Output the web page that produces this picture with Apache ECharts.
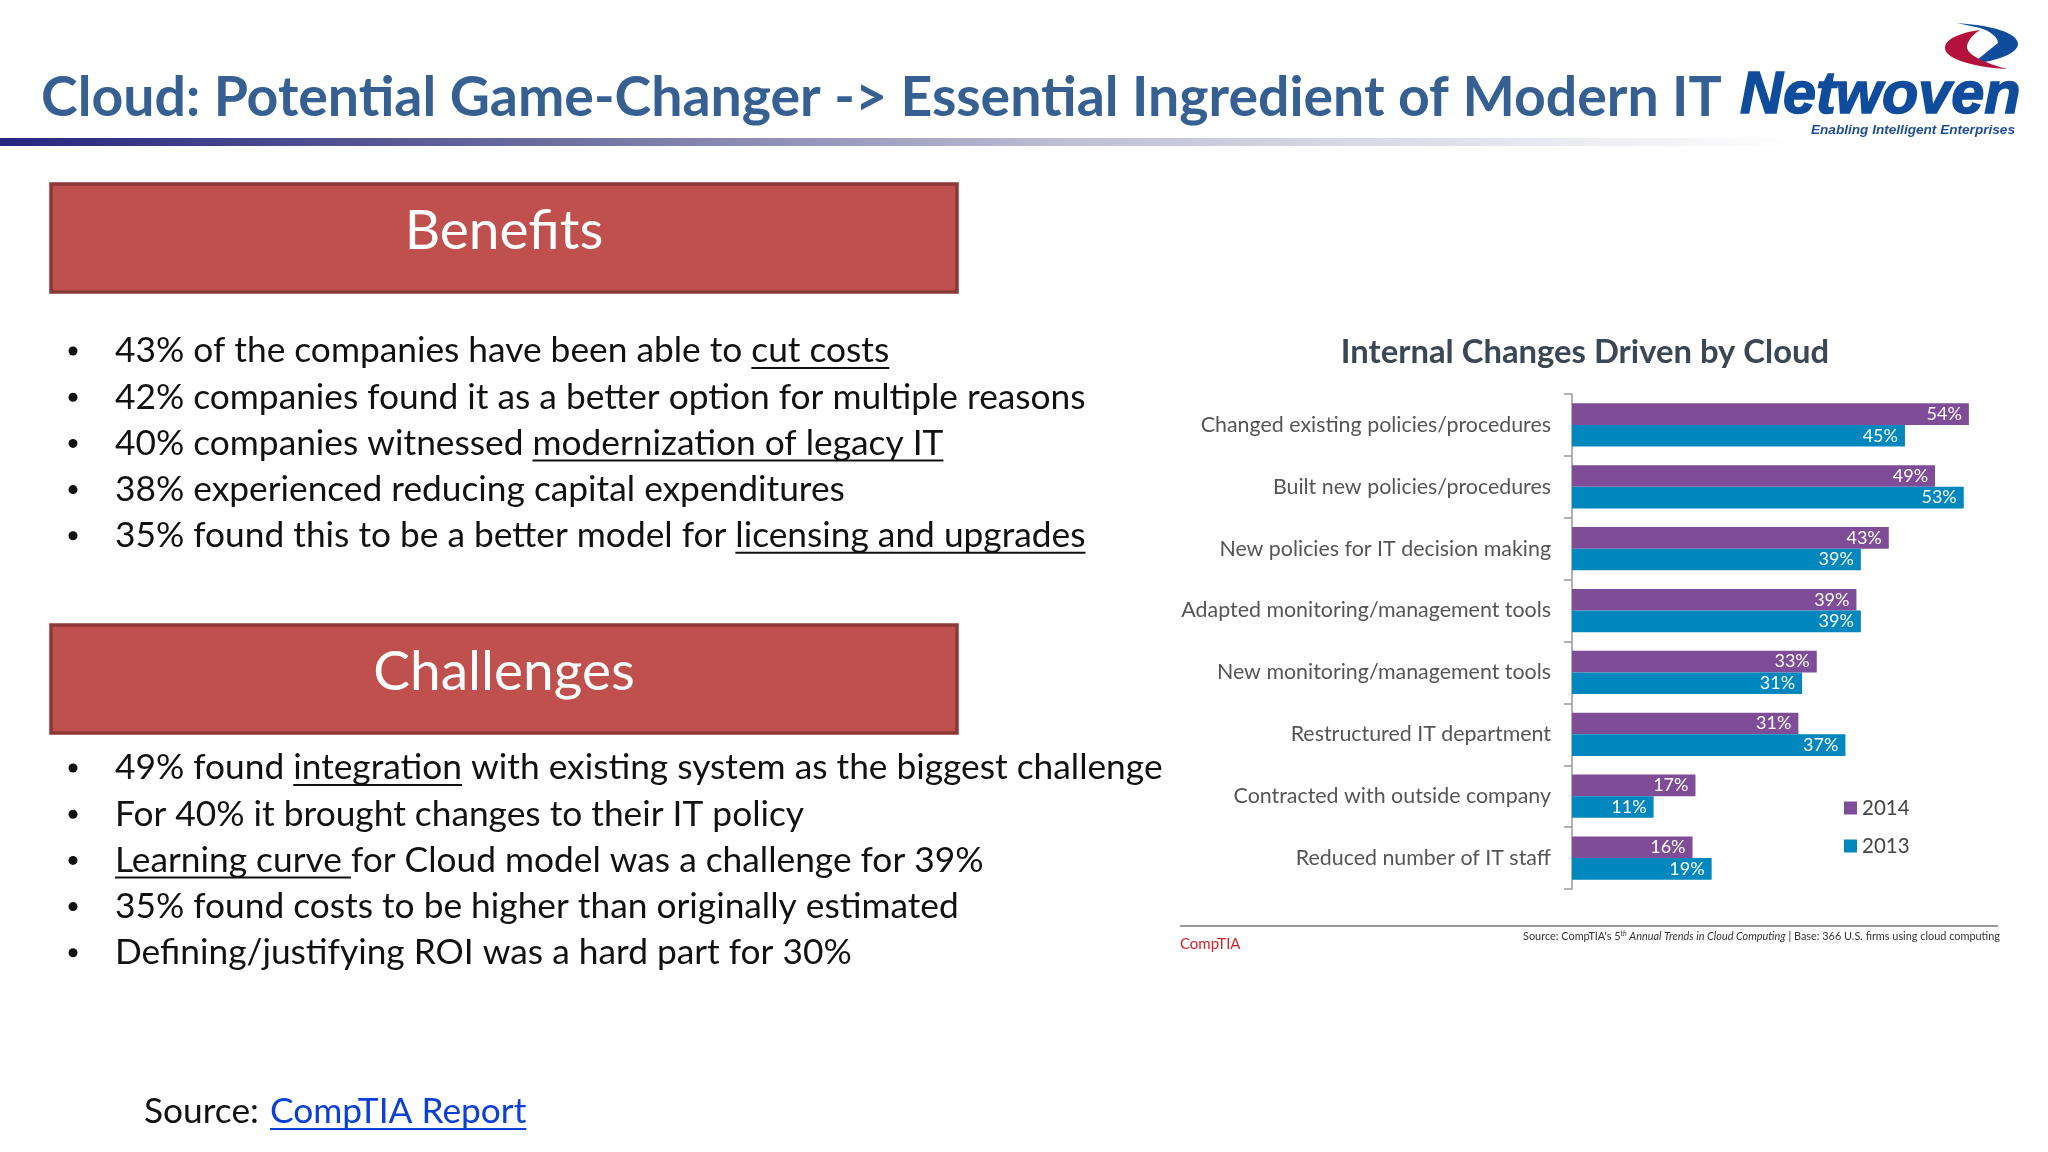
<!DOCTYPE html>
<html lang="en">
<head>
    <meta charset="UTF-8">
    <title>Cloud: Potential Game-Changer</title>
    <script src="https://cdn.jsdelivr.net/npm/echarts@6/dist/echarts.min.js"></script>
    <style>
        html, body { margin: 0; padding: 0; background: #fff; }
        #main { width: 2048px; height: 1152px; }
    </style>
</head>
<body>
<div id="main"></div>
<script>
    // chart data
    const categories = [
        'Changed existing policies/procedures',
        'Built new policies/procedures',
        'New policies for IT decision making',
        'Adapted monitoring/management tools',
        'New monitoring/management tools',
        'Restructured IT department',
        'Contracted with outside company',
        'Reduced number of IT staff'
    ];
    const values2014 = [54, 49.4, 43.1, 38.7, 33.3, 30.8, 16.8, 16.4];
    const values2013 = [45.3, 53.3, 39.3, 39.3, 31.3, 37.2, 11.1, 19];

    // slide text, [text, underlined]
    const benefits = [
        [['43% of the companies have been able to ', 0], ['cut costs', 1]],
        [['42% companies found it as a better option for multiple reasons', 0]],
        [['40% companies witnessed ', 0], ['modernization of legacy IT', 1]],
        [['38% experienced reducing capital expenditures', 0]],
        [['35% found this to be a better model for ', 0], ['licensing and upgrades', 1]]
    ];
    const challenges = [
        [['49% found ', 0], ['integration', 1], [' with existing system as the biggest challenge', 0]],
        [['For 40% it brought changes to their IT policy', 0]],
        [['Learning curve ', 1], ['for Cloud model was a challenge for 39%', 0]],
        [['35% found costs to be higher than originally estimated', 0]],
        [['Defining/justifying ROI was a hard part for 30%', 0]]
    ];

    const FONT = 'Lato';
    const BODY_SIZE = 35.3;
    const ctx = document.createElement('canvas').getContext('2d');

    function textWidth(text, size) {
        ctx.font = size + 'px ' + FONT;
        return ctx.measureText(text).width;
    }

    function label(text, x, y, size, fill, extra) {
        return {
            type: 'text',
            style: Object.assign({
                text: text, x: x, y: y, fontSize: size, fontFamily: FONT,
                fill: fill, verticalAlign: 'middle'
            }, extra || {})
        };
    }

    // one line made of plain and underlined pieces
    function textLine(segs, x, y, size, fill) {
        const out = [];
        segs.forEach(function (s) {
            const w = textWidth(s[0], size);
            out.push(label(s[0], x, y, size, fill));
            if (s[1]) {
                out.push({
                    type: 'line',
                    shape: { x1: x, y1: y + 17, x2: x + w, y2: y + 17 },
                    style: { stroke: fill, lineWidth: 2 }
                });
            }
            x += w;
        });
        return out;
    }

    function bulletList(lines, startY) {
        let out = [];
        lines.forEach(function (segs, i) {
            const y = startY + i * 46.2;
            out.push({ type: 'circle', shape: { cx: 73, cy: y, r: 4.5 }, style: { fill: '#111111' } });
            out = out.concat(textLine(segs, 115, y, BODY_SIZE, '#111111'));
        });
        return out;
    }

    function redBox(title, y) {
        return [
            {
                type: 'rect',
                shape: { x: 51, y: y, width: 906, height: 108 },
                style: { fill: '#c0504d', stroke: '#8c3836', lineWidth: 3.5 }
            },
            label(title, 504, y + 47, 55, '#ffffff', { align: 'center' })
        ];
    }

    echarts.graphic.registerShape('logoBlue', echarts.graphic.extendPath(
        'M1957,23 C2000,26 2018,35 2018,44 C2018,53 1998,61 1972,64 L1998,43 C1998,37 1990,31 1980,28 Z', {}));
    echarts.graphic.registerShape('logoRed', echarts.graphic.extendPath(
        'M2007,69 C1970,67 1945,58 1945,48 C1945,38 1965,30 1993,29 L1980,30 C1972,35 1967,42 1967,47 C1967,55 1985,63 2007,69 Z', {}));

    let slide = [
        label('Cloud: Potential Game-Changer -> Essential Ingredient of Modern IT', 41, 98, 55.4, '#376092', { fontWeight: 'bold' }),
        {
            type: 'rect',
            shape: { x: 0, y: 138, width: 1800, height: 8 },
            style: {
                fill: new echarts.graphic.LinearGradient(0, 0, 1, 0, [
                    { offset: 0, color: '#26267f' },
                    { offset: 0.3, color: '#6c6c9f' },
                    { offset: 0.6, color: '#c0c0d6' },
                    { offset: 1, color: '#ffffff' }
                ])
            }
        },
        // logo
        { type: 'logoBlue', style: { fill: '#0f4c9c' } },
        { type: 'logoRed', style: { fill: '#b3123c' } },
        { type: 'text', style: { text: 'Netwoven', x: 1740, y: 97, fontSize: 59.4, fontWeight: 'bold', fontStyle: 'italic', fontFamily: 'Liberation Sans', fill: '#0f4c9c', stroke: '#0f4c9c', lineWidth: 1.5, verticalAlign: 'middle' } },
        { type: 'text', style: { text: 'Enabling Intelligent Enterprises', x: 1811, y: 130, fontSize: 13.6, fontWeight: 'bold', fontStyle: 'italic', fontFamily: 'Liberation Sans', fill: '#1f4e96', verticalAlign: 'middle' } }
    ];
    slide = slide.concat(redBox('Benefits', 184), redBox('Challenges', 625));
    slide = slide.concat(bulletList(benefits, 351), bulletList(challenges, 768));
    slide = slide.concat(textLine([['Source: ', 0]], 144, 1112, BODY_SIZE, '#111111'));
    slide = slide.concat(textLine([['CompTIA Report', 1]], 270, 1112, BODY_SIZE, '#0b3fd6'));
    slide.push(
        { type: 'line', shape: { x1: 1180, y1: 926, x2: 1998, y2: 926 }, style: { stroke: '#999999', lineWidth: 2 } },
        label('CompTIA', 1180, 944, 15, '#d2232a'),
        {
            type: 'text',
            style: {
                text: "{n|Source: CompTIA's 5}{s|th}{i| Annual Trends in Cloud Computing}{n| | Base: 366 U.S. firms using cloud computing}",
                x: 2000, y: 936, align: 'right', verticalAlign: 'middle',
                rich: {
                    n: { fontSize: 10.9, fontFamily: FONT, fill: '#333' },
                    s: { fontSize: 7, fontFamily: FONT, fontStyle: 'italic', fill: '#333', verticalAlign: 'top' },
                    i: { fontSize: 10.9, fontFamily: FONT, fontStyle: 'italic', fill: '#333' }
                }
            }
        }
    );

    const chart = echarts.init(document.getElementById('main'));

    function barLabel(params) {
        return Math.round(params.value) + '%';
    }

    const option = {
        animation: false,
        backgroundColor: '#ffffff',
        title: {
            text: 'Internal Changes Driven by Cloud',
            left: 1580,
            top: 331,
            textAlign: 'center',
            textStyle: { fontFamily: FONT, fontSize: 32.8, fontWeight: 'bold', color: '#3b4754' }
        },
        legend: {
            data: ['2014', '2013'],
            orient: 'vertical',
            left: 1844,
            top: 797,
            padding: 0,
            itemWidth: 13,
            itemHeight: 13,
            itemGap: 16,
            icon: 'rect',
            selectedMode: false,
            textStyle: { fontFamily: FONT, fontSize: 20.5, color: '#444444', lineHeight: 22 }
        },
        grid: { left: 1572, top: 394, width: 441, height: 495 },
        xAxis: { type: 'value', min: 0, max: 60, show: false },
        yAxis: {
            type: 'category',
            inverse: true,
            data: categories,
            axisLine: { show: true, lineStyle: { color: '#999999', width: 1.5 } },
            axisTick: { show: true, length: 8, lineStyle: { color: '#999999', width: 1.5 } },
            axisLabel: { fontFamily: FONT, fontSize: 21.4, color: '#555555', margin: 21 }
        },
        series: [
            {
                name: '2014', type: 'bar', data: values2014,
                barGap: 0, barCategoryGap: '30%',
                itemStyle: { color: '#7f4c98' },
                label: { show: true, position: 'insideRight', distance: 7, color: '#ffffff', fontFamily: FONT, fontSize: 18, formatter: barLabel }
            },
            {
                name: '2013', type: 'bar', data: values2013,
                itemStyle: { color: '#0087bd' },
                label: { show: true, position: 'insideRight', distance: 7, color: '#ffffff', fontFamily: FONT, fontSize: 18, formatter: barLabel }
            }
        ],
        graphic: { elements: slide }
    };
    chart.setOption(option);
</script>
</body>
</html>
